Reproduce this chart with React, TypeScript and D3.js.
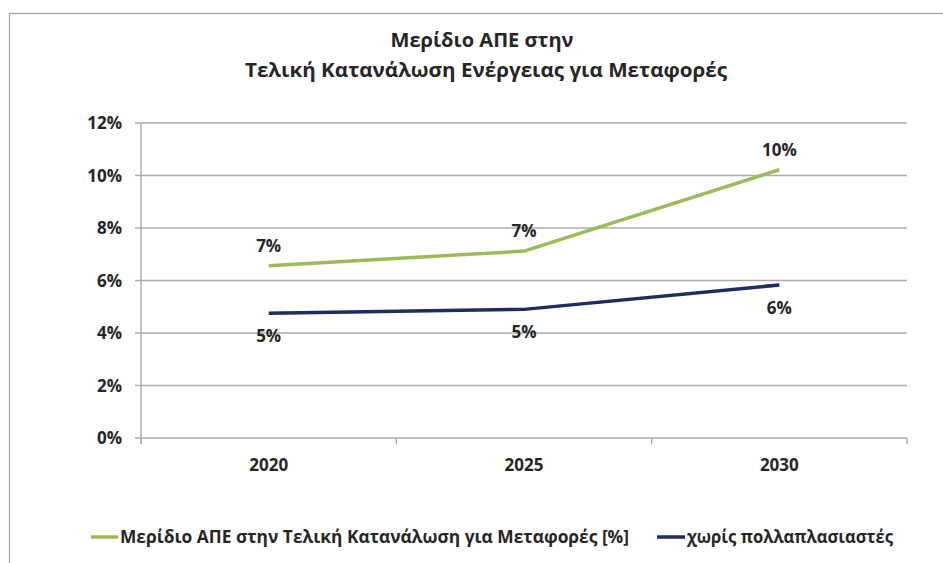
import React from 'react';
import * as d3 from 'd3';

const years = ['2020', '2025', '2030'];
const resShare = [6.56, 7.12, 10.22];
const noMultipliers = [4.75, 4.9, 5.83];
const yTicks = [0, 2, 4, 6, 8, 10, 12];
const titleLines = ['Μερίδιο ΑΠΕ στην', 'Τελική Κατανάλωση Ενέργειας για Μεταφορές'];
const seriesNames = ['Μερίδιο ΑΠΕ στην Τελική Κατανάλωση για Μεταφορές [%]', 'χωρίς πολλαπλασιαστές'];

const W = 943;
const H = 563;
const FONT = "'Open Sans', 'DejaVu Sans', sans-serif";
const TEXT = '#262626';
const GRID = '#ababab';
const GREEN = '#9bbb59';
const NAVY = '#1f2c5e';

export default function App() {
  const x = d3.scaleBand<string>().domain(years).range([141, 907]).padding(0);
  const y = d3.scaleLinear().domain([0, 12]).range([438, 123]);
  const cx = (d: string) => (x(d) as number) + x.bandwidth() / 2;
  const line = d3
    .line<number>()
    .x((_, i) => cx(years[i]))
    .y((v) => y(v));

  const boundaries = [141, ...years.map((d) => (x(d) as number) + x.bandwidth())];

  return (
    <svg
      width={W}
      height={H}
      style={{ position: 'absolute', left: 0, top: 0, background: '#fff' }}
      fontFamily={FONT}
    >
      <rect x={9.5} y={13.5} width={1000} height={600} fill="#fff" stroke="#a6a6a6" strokeWidth={1.3} />
      {/* title */}
      <text x={482} y={47} textAnchor="middle" fontSize={19} fontWeight={700} fill={TEXT} textLength={183} lengthAdjust="spacingAndGlyphs">
        {titleLines[0]}
      </text>
      <text x={486} y={77} textAnchor="middle" fontSize={19} fontWeight={700} fill={TEXT} textLength={482} lengthAdjust="spacingAndGlyphs">
        {titleLines[1]}
      </text>
      {/* gridlines & y axis */}
      {yTicks.map((t) => (
        <g key={t}>
          <line x1={135} x2={907} y1={y(t)} y2={y(t)} stroke={GRID} strokeWidth={1.4} />
          <text x={122} y={y(t)} dy="0.36em" textAnchor="end" fontSize={17} fontWeight={700} fill={TEXT}>
            {`${t}%`}
          </text>
        </g>
      ))}
      <line x1={141} x2={141} y1={123} y2={444} stroke={GRID} strokeWidth={1.4} />
      {boundaries.map((b, i) => (
        <line key={i} x1={b} x2={b} y1={438} y2={444} stroke={GRID} strokeWidth={1.4} />
      ))}
      {years.map((d) => (
        <text key={d} x={cx(d)} y={465} dy="0.36em" textAnchor="middle" fontSize={17} fontWeight={700} fill={TEXT}>
          {d}
        </text>
      ))}
      {/* series */}
      <path d={line(resShare) || ''} fill="none" stroke={GREEN} strokeWidth={3.5} strokeLinejoin="round" />
      <path d={line(noMultipliers) || ''} fill="none" stroke={NAVY} strokeWidth={3.5} strokeLinejoin="round" />
      {resShare.map((v, i) => (
        <text key={'g' + i} x={cx(years[i])} y={y(v) - 20} dy="0.36em" textAnchor="middle" fontSize={17} fontWeight={700} fill={TEXT}>
          {`${Math.round(v)}%`}
        </text>
      ))}
      {noMultipliers.map((v, i) => (
        <text key={'b' + i} x={cx(years[i])} y={y(v) + 23} dy="0.36em" textAnchor="middle" fontSize={17} fontWeight={700} fill={TEXT}>
          {`${Math.round(v)}%`}
        </text>
      ))}
      {/* legend */}
      <line x1={91} x2={118} y1={537} y2={537} stroke={GREEN} strokeWidth={3.5} />
      <text x={120} y={537} dy="0.36em" fontSize={17} fontWeight={700} fill={TEXT} textLength={509} lengthAdjust="spacingAndGlyphs">
        {seriesNames[0]}
      </text>
      <line x1={657} x2={685} y1={537} y2={537} stroke={NAVY} strokeWidth={3.5} />
      <text x={687} y={537} dy="0.36em" fontSize={17} fontWeight={700} fill={TEXT} textLength={206} lengthAdjust="spacingAndGlyphs">
        {seriesNames[1]}
      </text>
    </svg>
  );
}
